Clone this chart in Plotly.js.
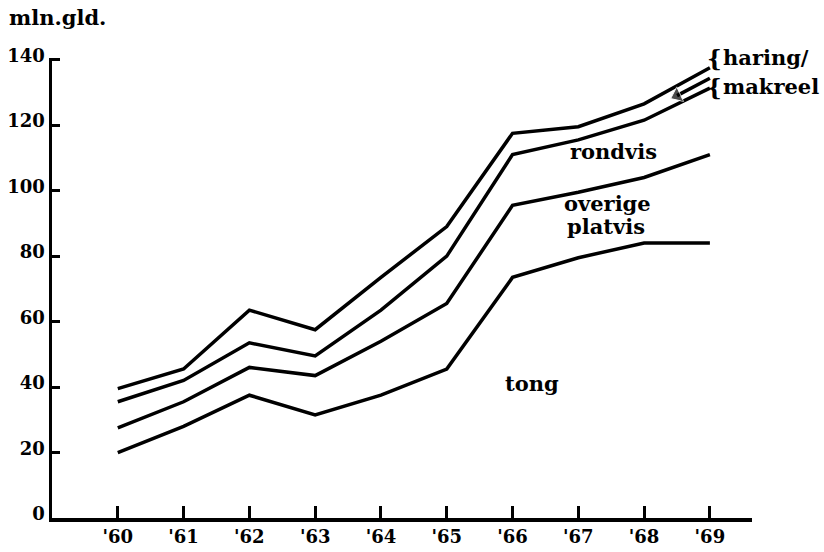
<!DOCTYPE html>
<html>
<head>
<meta charset="utf-8">
<script src="https://cdn.plot.ly/plotly-3.0.1.min.js"></script>
<style>html,body{margin:0;padding:0;background:#fff;}#chart{width:824px;height:552px;}</style>
</head>
<body>
<div id="chart"></div>
<script>
// Data (cumulative values, mln. gld.)
const years = [1960, 1961, 1962, 1963, 1964, 1965, 1966, 1967, 1968, 1969];
const yearLabels = ["'60", "'61", "'62", "'63", "'64", "'65", "'66", "'67", "'68", "'69"];
const tong = [20, 28, 37.5, 31.5, 37.5, 45.5, 73.5, 79.5, 84, 84];
const overigePlatvis = [27.5, 35.5, 46, 43.5, 54, 65.5, 95.5, 99.5, 104, 111];
const rondvis = [35.5, 42, 53.5, 49.5, 63.5, 80, 111, 115.5, 121.5, 131.3];
const haringMakreel = [39.5, 45.5, 63.5, 57.5, 73.5, 89, 117.5, 119.5, 126.5, 137.5];
const makreelSplitX = [1968.5, 1969];
const makreelSplitY = [129, 134.3];
const yTicks = [0, 20, 40, 60, 80, 100, 120, 140];

const FONT = "DejaVu Serif";
const lineStyle = {color: "#000", width: 3.5, shape: "linear"};
const lblFont = {family: FONT, size: 21, color: "#000", weight: "bold"};
const tickFont = {family: FONT, size: 18, color: "#000", weight: "bold"};

const traces = [tong, overigePlatvis, rondvis, haringMakreel].map(v => ({
  x: years, y: v, type: "scatter", mode: "lines", line: lineStyle,
  hoverinfo: "skip", showlegend: false, cliponaxis: false
}));
traces.push({
  x: makreelSplitX, y: makreelSplitY, type: "scatter", mode: "lines+markers",
  line: lineStyle, marker: {symbol: "triangle-left", size: [14, 0], color: "#000", angle: -25},
  hoverinfo: "skip", showlegend: false, cliponaxis: false
});

const txt = (text, x, y, xanchor) => ({
  text: text, x: x, y: y, xref: "x", yref: "y", xanchor: xanchor || "center", yanchor: "middle",
  showarrow: false, font: lblFont
});
const ptxt = (text, x, y, font, xanchor) => ({
  text: text, x: x, y: y, xref: "paper", yref: "paper", xanchor: xanchor || "left", yanchor: "middle",
  showarrow: false, font: font || lblFont
});
const braceFont = {family: FONT, size: 23, color: "#000"};

const layout = {
  width: 824, height: 552,
  margin: {l: 52, r: 72, t: 58, b: 34},
  paper_bgcolor: "#fff", plot_bgcolor: "#fff",
  showlegend: false,
  font: {family: FONT, size: 18, color: "#000", weight: "bold"},
  xaxis: {
    range: [1959, 1969.64], tickmode: "array", tickvals: years, ticktext: yearLabels,
    ticks: "inside", ticklen: 12, tickwidth: 3, tickcolor: "#000",
    showline: true, linewidth: 3.5, linecolor: "#000", showgrid: false, zeroline: false,
    tickfont: tickFont, fixedrange: true
  },
  yaxis: {
    range: [0, 140.5], tickmode: "array", tickvals: yTicks, ticktext: yTicks.map(String),
    ticks: "inside", ticklen: 8, tickwidth: 3, tickcolor: "#000",
    showline: true, linewidth: 3.5, linecolor: "#000", showgrid: false, zeroline: false,
    tickfont: tickFont, ticklabelshift: -4, fixedrange: true
  },
  annotations: [
    ptxt("mln.gld.", -0.065, 1.087),
    txt("rondvis", 1967.54, 111.8),
    txt("overige", 1966.75, 96.2, "left"),
    txt("platvis", 1966.8, 88.9, "left"),
    txt("tong", 1966.3, 41),
    ptxt("{", 0.96, 1.002, braceFont, "right"),
    ptxt("{", 0.96, 0.939, braceFont, "right"),
    ptxt("haring/", 0.955, 1.002),
    ptxt("makreel", 0.955, 0.939)
  ]
};

Plotly.newPlot("chart", traces, layout, {staticPlot: true, displayModeBar: false});
</script>
</body>
</html>
